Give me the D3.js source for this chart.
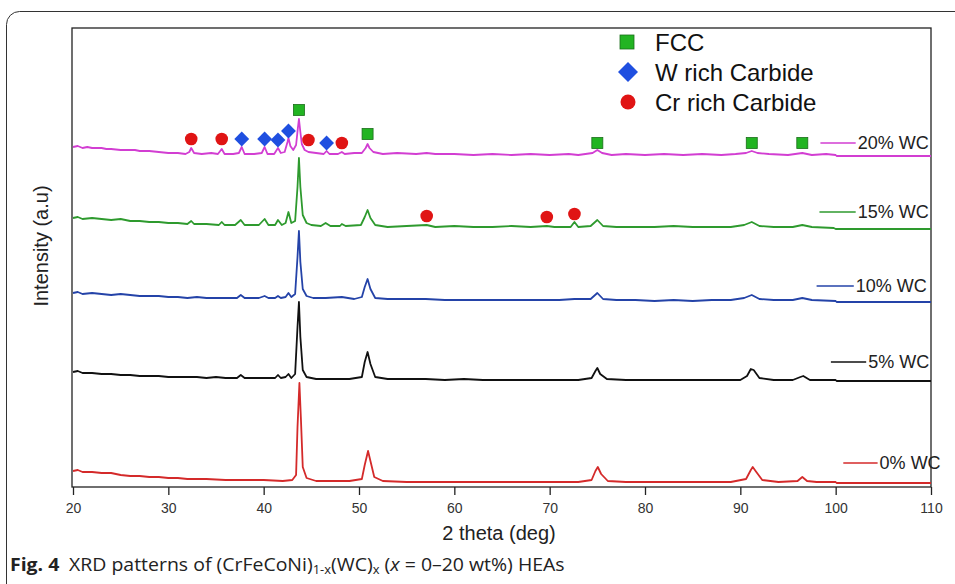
<!DOCTYPE html>
<html>
<head>
<meta charset="utf-8">
<script src="https://cdn.jsdelivr.net/npm/d3@7"></script>
<style>
  body { margin: 0; background: #fff; }
  svg { display: block; font-family: "Liberation Sans", Arial, sans-serif; }
</style>
</head>
<body>
<div id="chart"></div>
<script>
// ---- data: [2theta, intensity (a.u., stacked offset)] ----
const xTicks = [20, 30, 40, 50, 60, 70, 80, 90, 100, 110];
const sampleNames = ["0% WC", "5% WC", "10% WC", "15% WC", "20% WC"];

const wc0 = [[20,16],[20.5,17],[21,15],[22,15],[23,14],[24,14],[25,12],[26,11],[27,11],[28,10],[29,10],[30,9],[31,9],[32,8],[34,8],[36,7],[38,7],[40,7],[42,6],[43,7],[43.4,12],[43.55,60],[43.75,104],[43.9,70],[44.1,20],[44.5,9],[45.5,6],[47,6],[49,6],[50.3,8],[50.6,22],[50.95,36],[51.2,26],[51.6,10],[52.5,6],[55,5],[58,5],[61,5],[64,5],[67,5],[70,5],[73,5],[74.4,7],[74.8,16],[75.05,20],[75.4,13],[76.1,6],[78,5],[80,5],[83,5],[86,5],[89,5],[90.6,8],[91.1,17],[91.3,20],[91.6,16],[92.3,7],[94,5],[96,6],[96.5,10],[97,6],[98,5],[100,5],[100.1,4],[110,4]];

const wc5 = [[20,115],[20.5,116],[21,114],[22,114],[23,113],[24,113],[25,112],[26,112],[27,111],[28,111],[29,111],[30,110],[31,110],[32,110],[33,110],[34,109],[35,110],[36,109],[37.2,109],[37.6,112],[38,109],[40,109],[41.2,109],[41.5,112],[41.8,109],[42.3,110],[42.6,113],[42.9,109],[43.3,113],[43.55,160],[43.7,185],[43.85,150],[44.1,117],[44.5,110],[45.5,108],[47,108],[49,108],[50.3,110],[50.6,125],[50.9,135],[51.2,123],[51.7,110],[53,108],[55,108],[57,108],[59,107],[61,108],[63,107],[65,107],[67,107],[69,107],[71,107],[73,107],[74.4,109],[74.8,116],[75,119],[75.3,113],[76,108],[78,107],[80,107],[82,107],[84,107],[86,107],[88,107],[90,107],[90.7,111],[91.1,118],[91.4,117],[92,109],[93.5,107],[95.5,107],[96.3,110],[96.6,111],[97.3,107],[99,107],[100,107],[100.1,106],[110,106]];

const wc10 = [[20,194],[20.5,195],[21,193],[22,194],[23,193],[24,192],[25,193],[26,192],[27,191],[28,191],[29,191],[30,190],[31,190],[32,189],[33,190],[34,189],[35,189],[36,189],[37.2,189],[37.6,192],[38,189],[39.5,189],[40.1,191],[40.5,189],[41.2,189],[41.5,191],[41.8,189],[42.3,190],[42.6,194],[42.9,190],[43.3,193],[43.55,230],[43.7,256],[43.85,225],[44.1,198],[44.5,191],[45.2,189],[46.5,189],[48.2,190],[49.5,188],[50.3,190],[50.6,200],[50.9,208],[51.2,198],[51.7,189],[53,188],[55,188],[57,188],[59,187],[61,187],[63,187],[65,187],[67,187],[69,187],[71,187],[72.6,188],[74.3,188],[75,194],[75.6,188],[77,187],[79,187],[81,186],[83,187],[85,186],[87,187],[89,187],[90.4,189],[91.2,192],[92,188],[93.5,187],[95.5,187],[96.5,189],[97.5,187],[100,186],[100.1,185],[110,185]];

const wc15 = [[20,269],[20.5,270],[21,268],[22,269],[23,268],[24,267],[25,268],[26,266],[27,266],[28,265],[29,265],[30,264],[31,264],[32,263],[32.4,266],[32.7,263],[34,263],[35.3,262],[35.6,265],[35.9,262],[37,262],[37.6,267],[38,262],[39.5,262],[40.1,268],[40.5,262],[41.2,262],[41.5,267],[41.9,262],[42.3,264],[42.6,275],[42.9,264],[43.3,266],[43.55,300],[43.7,329],[43.85,300],[44.1,272],[44.5,264],[45,262],[46,261],[46.5,264],[47,261],[48,261],[48.2,263],[48.6,261],[50.2,262],[50.6,270],[50.9,277],[51.2,269],[51.7,262],[53,260],[55,261],[57.1,262],[58,260],[60,261],[62,260],[64,260],[66,261],[68,260],[69.7,261],[70.5,260],[72.2,260],[72.6,265],[73,260],[74.3,261],[75,267],[75.6,261],[77,260],[79,260],[81,260],[83,261],[85,260],[87,260],[89,260],[90.4,262],[91.2,265],[92,261],[93.5,260],[95.5,260],[96.5,262],[97.5,260],[99.8,259],[100,258],[110,258]];

const wc20 = [[20,340],[20.5,341],[21,339],[21.5,340],[22,339],[23,339],[23.5,338],[24,338],[25,337],[26,337],[26.5,337],[27,336],[28,336],[29,335],[30,334],[31,334],[31.8,333],[32.2,335],[32.4,339],[32.7,334],[33.5,333],[34.5,334],[35.2,333],[35.6,338],[35.9,333],[36.8,333],[37.4,334],[37.7,340],[38,333],[39,333],[39.8,334],[40.1,340],[40.4,333],[41.1,333],[41.5,339],[41.8,334],[42.2,335],[42.5,345],[42.6,349],[42.8,341],[43.1,337],[43.4,342],[43.6,360],[43.7,368],[43.85,355],[44,343],[44.3,337],[44.7,335],[45.5,334],[46.3,333],[46.6,336],[46.9,333],[47.8,333],[48.2,335],[48.5,333],[49.5,334],[50.3,334],[50.7,339],[50.9,343],[51.1,339],[51.5,335],[52.5,333],[54,334],[56,333],[57.1,334],[58,333],[60,333],[62,332],[64,333],[66,332],[68,333],[70,332],[72,333],[73,332],[74.5,334],[75,337],[75.5,334],[76.5,332],[78,333],[80,332],[82,333],[84,332],[86,333],[88,332],[89.5,333],[90.6,334],[91.2,336],[91.8,334],[93,333],[95,332],[96.5,334],[97.5,332],[99,333],[100,332],[100.1,331],[110,331]];

// phase markers [2theta, height]
const fccMarks = [[43.7,377],[50.9,353],[75,344],[91.2,344],[96.5,344]];
const wMarks = [[37.7,348],[40.1,348],[41.5,347],[42.6,356],[46.6,344]];
const crMarks = [[32.4,348],[35.6,348],[44.7,347],[48.2,344],[57.1,271],[69.7,270],[72.6,273]];

const series = [wc0, wc5, wc10, wc15, wc20];
const colors = ["#d42a2a", "#111111", "#2443a8", "#2e9a2e", "#d23ed2"];

// ---- layout ----
const W = 955, H = 584;
const plot = { left: 72, top: 28, right: 931, bottom: 487 };
const font = '"Liberation Sans", Arial, sans-serif';

const svg = d3.select('#chart').append('svg')
    .attr('width', W).attr('height', H);

// rounded figure box
svg.append('rect')
    .attr('x', 6.5).attr('y', 11.5)
    .attr('width', 980).attr('height', 620)
    .attr('rx', 13)
    .attr('fill', 'none').attr('stroke', '#333').attr('stroke-width', 1);

const x = d3.scaleLinear().domain([20, 110]).range([73, 931]);
const y = d3.scaleLinear().domain([0, 459]).range([plot.bottom, plot.top]);

// x axis
const xAxisG = svg.append('g')
    .attr('transform', `translate(0,${plot.bottom})`)
    .call(d3.axisBottom(x).tickValues(xTicks).tickSize(8).tickPadding(8));
xAxisG.select('.domain').remove();
xAxisG.selectAll('line').attr('stroke', '#222').attr('stroke-width', 1.3);
xAxisG.selectAll('text')
    .style('font-family', font)
    .style('font-size', '14px').style('fill', '#333');

// frame
svg.append('rect')
    .attr('x', plot.left).attr('y', plot.top)
    .attr('width', plot.right - plot.left).attr('height', plot.bottom - plot.top)
    .attr('fill', 'none').attr('stroke', '#222').attr('stroke-width', 1.3);

svg.append('text')
    .attr('x', 499).attr('y', 540)
    .attr('text-anchor', 'middle')
    .style('font-family', font)
    .style('font-size', '20px').style('fill', '#222')
    .text('2 theta (deg)');

svg.append('text')
    .attr('transform', 'translate(48,246) rotate(-90)')
    .attr('text-anchor', 'middle')
    .style('font-family', font)
    .style('font-size', '20px').style('fill', '#222')
    .text('Intensity (a.u)');

// curves
const line = d3.line().x(d => x(d[0])).y(d => y(d[1]));
svg.append('g').selectAll('path')
    .data(series)
    .join('path')
    .attr('d', line)
    .attr('fill', 'none')
    .attr('stroke', (d, i) => colors[i])
    .attr('stroke-width', 1.8)
    .attr('stroke-linejoin', 'round');

// sample labels with short line keys
const labelPos = [
    { x0: 100.8, x1: 104.4, y: 24 },
    { x0: 99.5, x1: 103.2, y: 125 },
    { x0: 98.0, x1: 101.9, y: 201 },
    { x0: 98.3, x1: 102.1, y: 275 },
    { x0: 98.4, x1: 102.1, y: 344 }
];
const lab = svg.append('g').selectAll('g')
    .data(sampleNames)
    .join('g');
lab.append('line')
    .attr('x1', (d, i) => x(labelPos[i].x0)).attr('x2', (d, i) => x(labelPos[i].x1))
    .attr('y1', (d, i) => y(labelPos[i].y)).attr('y2', (d, i) => y(labelPos[i].y))
    .attr('stroke', (d, i) => colors[i]).attr('stroke-width', 1.6);
lab.append('text')
    .attr('x', (d, i) => x(labelPos[i].x1) + 2)
    .attr('y', (d, i) => y(labelPos[i].y))
    .attr('dy', '0.35em')
    .style('font-family', font)
    .style('font-size', '18px').style('fill', '#222')
    .text(d => d);

// phase markers
const mk = svg.append('g');
mk.selectAll('rect')
    .data(fccMarks)
    .join('rect')
    .attr('x', d => x(d[0]) - 5.5).attr('y', d => y(d[1]) - 5.5)
    .attr('width', 11).attr('height', 11)
    .attr('fill', '#22b422').attr('stroke', '#1a6e1a').attr('stroke-width', 0.8);
mk.selectAll('path')
    .data(wMarks)
    .join('path')
    .attr('d', d3.symbol(d3.symbolSquare, 110))
    .attr('transform', d => `translate(${x(d[0])},${y(d[1])}) rotate(45)`)
    .attr('fill', '#1f4fe0');
mk.selectAll('circle')
    .data(crMarks)
    .join('circle')
    .attr('cx', d => x(d[0])).attr('cy', d => y(d[1]))
    .attr('r', 6.3)
    .attr('fill', '#e01414');

// legend
const legendItems = ["FCC", "W rich Carbide", "Cr rich Carbide"];
const lg = svg.append('g').attr('transform', 'translate(627,42)');
lg.append('rect').attr('x', -7).attr('y', -7).attr('width', 14).attr('height', 14)
    .attr('fill', '#22b422').attr('stroke', '#1a6e1a').attr('stroke-width', 0.8);
lg.append('path').attr('d', d3.symbol(d3.symbolSquare, 200))
    .attr('transform', 'translate(1,30) rotate(45)').attr('fill', '#1f4fe0');
lg.append('circle').attr('cx', 1).attr('cy', 60).attr('r', 7.5).attr('fill', '#e01414');
lg.selectAll('text')
    .data(legendItems)
    .join('text')
    .attr('x', 28).attr('y', (d, i) => i * 30)
    .attr('dy', '0.36em')
    .style('font-family', font)
    .style('font-size', '24px').style('fill', '#111')
    .text(d => d);

// caption
const cap = svg.append('g');
const capText = cap.append('text')
    .attr('x', 0).attr('y', 0)
    .style('font-family', '"Open Sans", "Noto Sans", sans-serif')
    .style('font-size', '18px').style('fill', '#222');
capText.append('tspan').style('font-weight', 'bold').text('Fig. 4');
capText.append('tspan').text('\u2002XRD patterns of (CrFeCoNi)');
capText.append('tspan').attr('baseline-shift', '-25%').style('font-size', '12px').text('1-x');
capText.append('tspan').text('(WC)');
capText.append('tspan').attr('baseline-shift', '-25%').style('font-size', '12px').text('x');
capText.append('tspan').text(' (');
capText.append('tspan').style('font-style', 'italic').text('x');
capText.append('tspan').text(' = 0\u201320 wt%) HEAs');
const cw = capText.node().getBBox().width;
cap.attr('transform', `translate(10,571) scale(${555 / cw},1)`);
</script>
</body>
</html>
